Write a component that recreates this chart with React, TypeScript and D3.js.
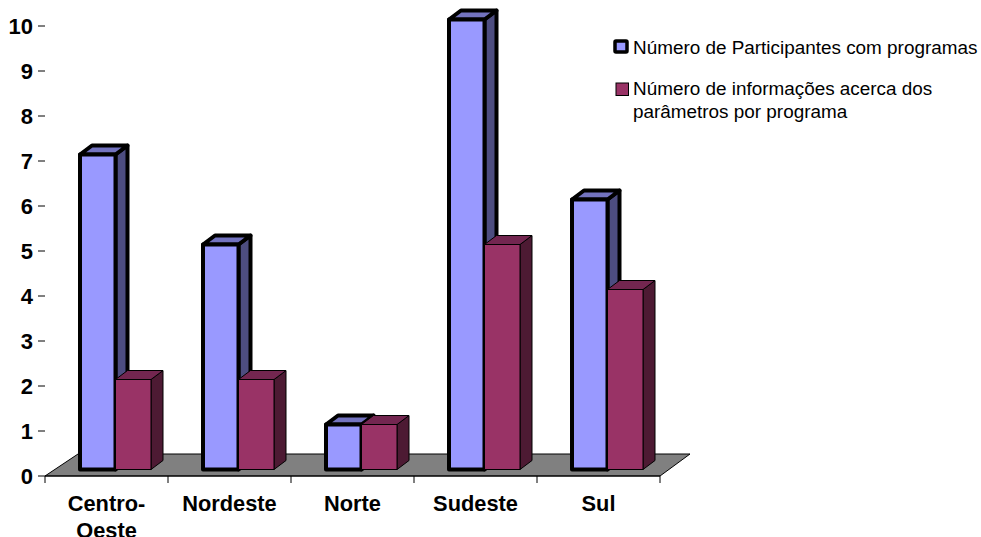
import React from "react";
import * as d3 from "d3";

const categories = ["Centro-Oeste", "Nordeste", "Norte", "Sudeste", "Sul"];
const categoryLines = [["Centro-", "Oeste"], ["Nordeste"], ["Norte"], ["Sudeste"], ["Sul"]];
const participantes = [7, 5, 1, 10, 6];
const informacoes = [2, 2, 1, 5, 4];
const yTicks = [0, 1, 2, 3, 4, 5, 6, 7, 8, 9, 10];
const legend1 = "Número de Participantes com programas";
const legend2 = ["Número de informações acerca dos", "parâmetros por programa"];

const x = d3.scaleBand<string>().domain(categories).range([45, 660]);
const y = d3.scaleLinear().domain([0, 10]).range([476, 26]);
const DX = 12, DY = -9, FLOOR_DX = 33, FLOOR_DY = -22;
const BASE = -6.5;
const BAR_W = 35.5, PAD = 35;
const font = "'Liberation Sans', Arial, sans-serif";
const pts = (p: number[][]) => p.map((a) => a.join(",")).join(" ");

function Bar({ x0, v, front, top, side, sw }: { x0: number; v: number; front: string; top: string; side: string; sw: number }) {
  const b = y(0) + BASE;
  const t = y(v) + BASE;
  const x1 = x0 + BAR_W;
  return (
    <g stroke="#000" strokeWidth={sw} strokeLinejoin="round">
      <polygon points={pts([[x1, b], [x1 + DX, b + DY], [x1 + DX, t + DY], [x1, t]])} fill={side} />
      <polygon points={pts([[x0, t], [x0 + DX, t + DY], [x1 + DX, t + DY], [x1, t]])} fill={top} />
      <rect x={x0} y={t} width={BAR_W} height={b - t} fill={front} />
    </g>
  );
}

export default function App() {
  return (
    <svg width={981} height={537} style={{ position: "absolute", left: 0, top: 0, background: "#fff" }} fontFamily={font}>
      <polygon
        points={pts([[45, y(0)], [45 + FLOOR_DX, y(0) + FLOOR_DY], [660 + 30, y(0) + FLOOR_DY], [660, y(0)]])}
        fill="#808080" stroke="#000" strokeWidth={1}
      />
      {yTicks.map((t) => (
        <g key={t}>
          <line x1={38} x2={45} y1={y(t)} y2={y(t)} stroke="#000" strokeWidth={1} />
          <text x={33} y={y(t) + 8} textAnchor="end" fontSize={22} fontWeight="bold" fill="#000">{t}</text>
        </g>
      ))}
      <line x1={45} x2={660} y1={y(0)} y2={y(0)} stroke="#000" strokeWidth={1} />
      {[...categories.map((c) => x(c)!), 660].map((p, i) => (
        <line key={i} x1={p} x2={p} y1={y(0)} y2={y(0) + 7} stroke="#000" strokeWidth={1} />
      ))}
      {categories.map((c, i) => (
        <g key={c}>
          <Bar x0={x(c)! + PAD} v={participantes[i]} front="#9999FF" top="#7373BF" side="#4D4D80" sw={4} />
          <Bar x0={x(c)! + PAD + BAR_W} v={informacoes[i]} front="#993366" top="#732650" side="#4D1A33" sw={1} />
          <text textAnchor="middle" fontSize={21.8} fontWeight="bold" fill="#000">
            {categoryLines[i].map((l, j) => (
              <tspan key={j} x={x(c)! + x.bandwidth() / 2} y={511 + j * 27}>{l}</tspan>
            ))}
          </text>
        </g>
      ))}
      <rect x={615} y={41} width={12} height={11} fill="#9999FF" stroke="#000" strokeWidth={3.5} rx={1} />
      <text x={633} y={54} fontSize={18.9} fill="#000">{legend1}</text>
      <rect x={616} y={83} width={12.5} height={12.5} fill="#993366" stroke="#000" strokeWidth={1} />
      <text fontSize={18.9} fill="#000">
        {legend2.map((l, j) => (
          <tspan key={j} x={633} y={95 + j * 22.5}>{l}</tspan>
        ))}
      </text>
    </svg>
  );
}
